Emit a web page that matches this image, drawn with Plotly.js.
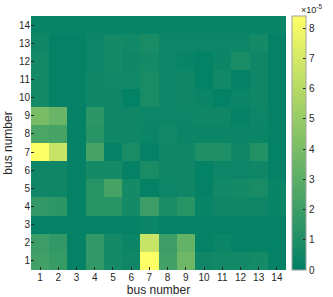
<!DOCTYPE html>
<html>
<head>
<meta charset="utf-8">
<script src="https://cdn.plot.ly/plotly-3.0.1.min.js"></script>
<style>html,body{margin:0;padding:0;background:#fff;}#chart{width:333px;height:297px;}</style>
</head>
<body>
<div id="chart"></div>
<script>
// bus numbers (x and y)
const buses = [1,2,3,4,5,6,7,8,9,10,11,12,13,14];
const tickLabels = ['1','2','3','4','5','6','7','8','9','10','11','12','13','14'];
// values in units of 1e-5, one array per row (bus 1 at bottom)
const row1  = [2.14,1.81,0.16,1.65,0.66,0.49,8.40,2.14,3.62,0.49,0.59,0.59,0.66,0.16];
const row2  = [1.98,1.65,0.16,1.65,0.66,0.33,6.59,1.98,3.29,0.16,0.33,0.16,0.16,0.10];
const row3  = [0.16,0.16,0.16,0.16,0.16,0.16,0.33,0.16,0.16,0.16,0.16,0.16,0.16,0.16];
const row4  = [1.65,1.48,0.16,1.32,1.32,0.66,1.98,0.82,1.32,0.26,0.49,0.49,0.49,0.26];
const row5  = [0.49,0.49,0.16,1.32,2.31,0.66,0.16,0.40,0.49,0.16,0.59,0.66,0.82,0.26];
const row6  = [0.49,0.49,0.16,0.66,0.66,0.16,0.82,0.49,0.49,0.10,0.40,0.40,0.49,0.16];
const row7  = [8.40,6.59,0.16,2.31,0.16,0.82,0.16,0.49,0.49,0.99,0.99,0.49,1.15,0.10];
const row8  = [2.47,2.31,0.16,1.32,0.49,0.49,0.33,0.59,0.33,0.33,0.33,0.33,0.33,0.16];
const row9  = [3.95,3.46,0.16,1.48,0.49,0.49,0.40,0.40,0.40,0.49,0.49,0.16,0.40,0.16];
const row10 = [0.66,0.16,0.16,0.49,0.49,0.10,0.82,0.40,0.49,0.33,0.10,0.33,0.49,0.16];
const row11 = [0.66,0.16,0.16,0.49,0.59,0.59,0.82,0.40,0.49,0.10,0.59,0.16,0.49,0.16];
const row12 = [0.66,0.16,0.16,0.40,0.66,0.49,0.66,0.40,0.26,0.10,0.33,0.82,0.49,0.16];
const row13 = [0.49,0.16,0.16,0.40,0.66,0.59,0.82,0.40,0.40,0.40,0.40,0.40,0.66,0.16];
const row14 = [0.26,0.26,0.26,0.26,0.26,0.26,0.26,0.26,0.26,0.26,0.26,0.26,0.26,0.26];
const zRows = [row1,row2,row3,row4,row5,row6,row7,row8,row9,row10,row11,row12,row13,row14];
const cbTicks = [0,1,2,3,4,5,6,7,8];

const font = {family: 'Liberation Sans, Arial, sans-serif', size: 10, color: '#262626'};
const titleFont = {family: 'Liberation Sans, Arial, sans-serif', size: 12, color: '#262626'};

const trace = {
  type: 'heatmap',
  x: buses, y: buses, z: zRows,
  zmin: 0, zmax: 8.4,
  colorscale: [[0,'rgb(0,128,102)'],[1,'rgb(255,255,102)']],
  xgap: 0, ygap: 0,
  colorbar: {
    x: 1.025, xanchor: 'left', xref: 'paper',
    y: 0.5, yanchor: 'middle', len: 1, lenmode: 'fraction',
    thickness: 14, thicknessmode: 'pixels',
    outlinecolor: 'rgb(160,160,160)', outlinewidth: 1,
    ticks: 'inside', ticklen: 3, tickcolor: '#262626',
    tickvals: cbTicks, ticktext: cbTicks.map(String),
    tickfont: font, xpad: 0, ypad: 0
  }
};

const layout = {
  width: 333, height: 297,
  margin: {l: 31, r: 47, t: 16, b: 27, pad: 0},
  paper_bgcolor: '#fff', plot_bgcolor: '#fff',
  font: font,
  xaxis: {
    range: [0.5, 14.5], tickvals: buses, ticktext: tickLabels,
    ticks: 'inside', ticklen: 3, tickcolor: '#262626',
    showgrid: false, zeroline: false, showline: false,
    tickfont: font,
    title: {text: 'bus number', font: titleFont, standoff: 3}
  },
  yaxis: {
    range: [0.5, 14.5], tickvals: buses, ticktext: tickLabels,
    ticks: 'inside', ticklen: 3, tickcolor: '#262626',
    showgrid: false, zeroline: false, showline: false,
    tickfont: font,
    title: {text: 'bus number', font: titleFont, standoff: 3}
  },
  annotations: [{
    xref: 'paper', yref: 'paper', x: 1.05, y: 1.06, xanchor: 'left', yanchor: 'top',
    text: '×10<sup>-5</sup>', showarrow: false, font: {family: font.family, size: 9, color: '#262626'}
  }]
};

Plotly.newPlot('chart', [trace], layout, {displayModeBar: false, staticPlot: true});
</script>
</body>
</html>
